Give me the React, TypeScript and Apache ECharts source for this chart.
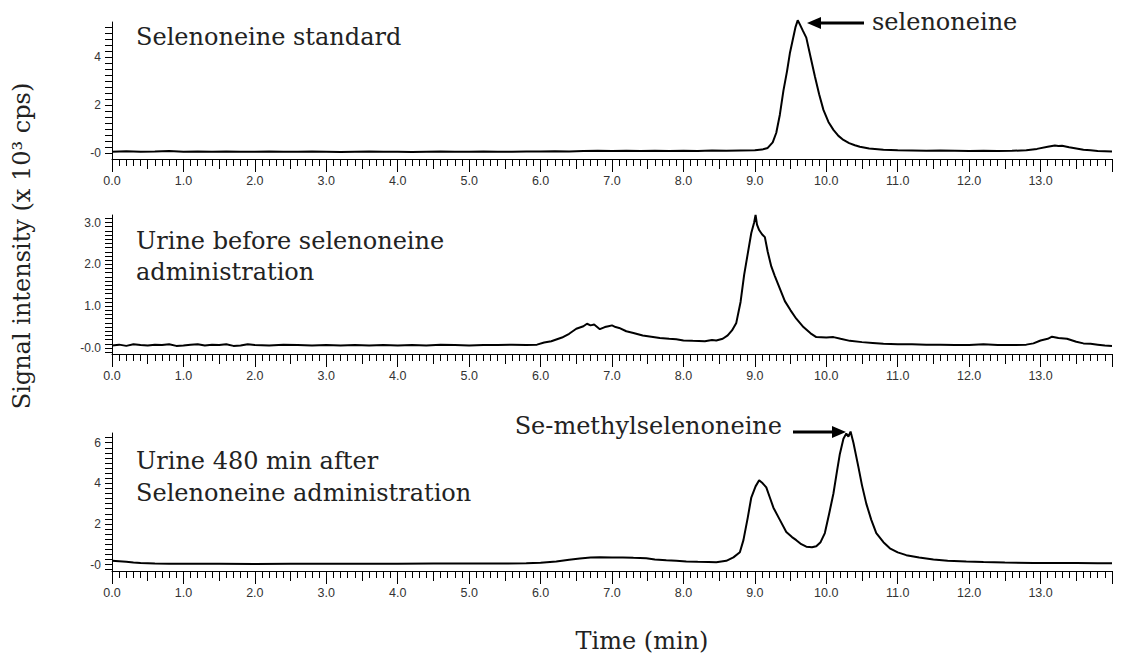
import React, { useEffect, useRef } from "react";
import * as echarts from "echarts";

// ---- data (time in min, signal in 10^3 cps) ----
const standardTrace: [number, number][] = [
  [0.0, 0.06], [0.2, 0.08], [0.4, 0.06], [0.6, 0.07], [0.8, 0.09], [1.0, 0.06], [1.2, 0.07], [1.4, 0.06],
  [1.6, 0.07], [1.8, 0.06], [2.0, 0.06], [2.2, 0.07], [2.4, 0.06], [2.6, 0.06], [2.8, 0.07], [3.0, 0.06],
  [3.2, 0.05], [3.4, 0.06], [3.6, 0.07], [3.8, 0.06], [4.0, 0.06], [4.2, 0.05], [4.4, 0.06], [4.6, 0.07],
  [4.8, 0.06], [5.0, 0.06], [5.2, 0.07], [5.4, 0.06], [5.6, 0.06], [5.8, 0.07], [6.0, 0.07], [6.2, 0.08],
  [6.4, 0.07], [6.6, 0.09], [6.8, 0.1], [7.0, 0.09], [7.2, 0.1], [7.4, 0.09], [7.6, 0.1], [7.8, 0.09],
  [8.0, 0.1], [8.2, 0.09], [8.4, 0.11], [8.6, 0.1], [8.8, 0.11], [9.0, 0.12], [9.1, 0.15], [9.18, 0.22],
  [9.25, 0.45], [9.3, 0.85], [9.35, 1.6], [9.4, 2.6], [9.45, 3.4], [9.49, 4.15], [9.53, 4.7], [9.57, 5.25],
  [9.6, 5.52], [9.63, 5.35], [9.67, 5.1], [9.72, 4.8], [9.78, 4.0], [9.84, 3.2], [9.9, 2.45], [9.96, 1.8],
  [10.03, 1.3], [10.1, 0.97], [10.17, 0.72], [10.24, 0.55], [10.32, 0.42], [10.4, 0.33], [10.47, 0.27],
  [10.6, 0.2], [10.8, 0.14], [11.0, 0.12], [11.2, 0.11], [11.4, 0.1], [11.6, 0.11], [11.8, 0.1], [12.0, 0.09],
  [12.2, 0.1], [12.4, 0.09], [12.6, 0.1], [12.8, 0.12], [12.95, 0.18], [13.1, 0.27], [13.2, 0.32],
  [13.25, 0.3], [13.3, 0.31], [13.4, 0.25], [13.5, 0.2], [13.6, 0.14], [13.7, 0.12], [13.8, 0.09],
  [13.9, 0.08], [14.0, 0.07],
];

const urineBeforeTrace: [number, number][] = [
  [0.0, 0.06], [0.1, 0.08], [0.2, 0.05], [0.3, 0.09], [0.4, 0.07], [0.5, 0.06], [0.6, 0.08], [0.7, 0.07],
  [0.8, 0.09], [0.9, 0.05], [1.0, 0.06], [1.1, 0.08], [1.2, 0.09], [1.3, 0.06], [1.4, 0.08], [1.5, 0.07],
  [1.6, 0.09], [1.7, 0.05], [1.8, 0.06], [1.9, 0.09], [2.0, 0.07], [2.2, 0.06], [2.4, 0.08], [2.6, 0.07],
  [2.8, 0.06], [3.0, 0.07], [3.2, 0.06], [3.4, 0.07], [3.6, 0.06], [3.8, 0.07], [4.0, 0.06], [4.2, 0.07],
  [4.4, 0.06], [4.6, 0.08], [4.8, 0.07], [5.0, 0.06], [5.2, 0.07], [5.4, 0.07], [5.6, 0.08], [5.8, 0.07],
  [5.95, 0.08], [6.05, 0.13], [6.15, 0.16], [6.3, 0.25], [6.4, 0.34], [6.5, 0.46], [6.6, 0.52], [6.65, 0.58],
  [6.7, 0.54], [6.75, 0.56], [6.83, 0.45], [6.9, 0.5], [6.95, 0.52], [7.0, 0.54], [7.05, 0.5], [7.1, 0.48],
  [7.2, 0.4], [7.3, 0.36], [7.43, 0.3], [7.55, 0.27], [7.67, 0.24], [7.8, 0.22], [7.9, 0.21], [8.0, 0.18],
  [8.13, 0.17], [8.3, 0.16], [8.4, 0.19], [8.46, 0.18], [8.55, 0.22], [8.62, 0.3], [8.68, 0.42], [8.74, 0.6],
  [8.8, 1.1], [8.85, 1.75], [8.9, 2.25], [8.95, 2.75], [8.99, 3.0], [9.01, 3.18], [9.03, 2.95], [9.06, 2.82],
  [9.1, 2.72], [9.14, 2.65], [9.18, 2.3], [9.23, 1.95], [9.28, 1.72], [9.35, 1.42], [9.42, 1.12], [9.5, 0.9],
  [9.58, 0.7], [9.68, 0.5], [9.78, 0.35], [9.86, 0.26], [10.0, 0.25], [10.1, 0.26], [10.2, 0.22],
  [10.33, 0.17], [10.5, 0.14], [10.65, 0.12], [10.8, 0.1], [11.0, 0.09], [11.2, 0.09], [11.4, 0.08],
  [11.6, 0.08], [11.8, 0.07], [12.0, 0.07], [12.2, 0.09], [12.4, 0.07], [12.6, 0.07], [12.8, 0.08],
  [12.9, 0.11], [13.0, 0.18], [13.1, 0.22], [13.16, 0.27], [13.25, 0.24], [13.37, 0.22], [13.5, 0.15],
  [13.6, 0.11], [13.7, 0.1], [13.8, 0.08], [13.9, 0.06], [14.0, 0.05],
];

const urineAfterTrace: [number, number][] = [
  [0.0, 0.18], [0.1, 0.16], [0.2, 0.14], [0.3, 0.1], [0.4, 0.07], [0.6, 0.05], [0.8, 0.04], [1.0, 0.04],
  [1.5, 0.04], [2.0, 0.03], [2.5, 0.04], [3.0, 0.04], [3.5, 0.04], [4.0, 0.04], [4.5, 0.05], [5.0, 0.05],
  [5.5, 0.05], [5.8, 0.06], [6.0, 0.09], [6.22, 0.15], [6.4, 0.24], [6.55, 0.3], [6.7, 0.34], [6.83, 0.36],
  [7.0, 0.35], [7.15, 0.35], [7.3, 0.33], [7.48, 0.31], [7.6, 0.25], [7.76, 0.21], [7.9, 0.18], [8.04, 0.15],
  [8.2, 0.13], [8.35, 0.12], [8.46, 0.11], [8.6, 0.18], [8.7, 0.35], [8.79, 0.6], [8.84, 1.2], [8.9, 2.3],
  [8.95, 3.3], [9.01, 3.85], [9.06, 4.15], [9.11, 4.0], [9.16, 3.8], [9.21, 3.3], [9.26, 2.8], [9.35, 2.2],
  [9.44, 1.6], [9.52, 1.35], [9.58, 1.2], [9.65, 1.0], [9.72, 0.88], [9.8, 0.85], [9.86, 0.9], [9.92, 1.1],
  [9.98, 1.55], [10.04, 2.5], [10.1, 3.5], [10.15, 4.6], [10.19, 5.45], [10.24, 6.2], [10.28, 6.45],
  [10.31, 6.3], [10.34, 6.55], [10.38, 6.0], [10.45, 4.8], [10.5, 3.9], [10.56, 3.0], [10.63, 2.2],
  [10.7, 1.55], [10.8, 1.1], [10.89, 0.8], [11.0, 0.6], [11.12, 0.46], [11.3, 0.34], [11.5, 0.25],
  [11.7, 0.19], [11.96, 0.15], [12.2, 0.12], [12.5, 0.1], [12.9, 0.08], [13.2, 0.07], [13.5, 0.07],
  [13.8, 0.06], [14.0, 0.06],
];

// tick labels
const xLabelValues = [0, 1, 2, 3, 4, 5, 6, 7, 8, 9, 10, 11, 12, 13];
const yTicksStandard = [0, 2, 4];
const yTicksBefore = [0, 1, 2, 3];
const yTicksAfter = [0, 2, 4, 6];

const panelTitles = [
  ["Selenoneine standard"],
  ["Urine before selenoneine", "administration"],
  ["Urine 480 min after", "Selenoneine administration"],
];
const yAxisTitle = "Signal intensity (x 10³ cps)";
const xAxisTitle = "Time (min)";

const SERIF = "'DejaVu Serif', serif";
const SANS = "'Liberation Sans', Arial, sans-serif";

// tick positions every `step` inside [min, max]
function tickPositions(min: number, max: number, step: number): number[] {
  const out: number[] = [];
  const n = Math.round(max / step) + 2;
  for (let k = -n; k <= n; k++) {
    const v = Number((k * step).toFixed(4));
    if (v >= min && v <= max) out.push(v);
  }
  return out;
}

export default function App() {
  const ref = useRef<HTMLDivElement>(null);

  useEffect(() => {
    if (!ref.current) return;
    const chart = echarts.init(ref.current, null, { renderer: "svg" });

    const GRID_LEFT = 112;
    const GRID_WIDTH = 1000;

    const panels = [
      { top: 22, height: 137, min: -0.24, max: 5.45, major: yTicksStandard, minorStep: 0.25, fmt: (v: number) => (v === 0 ? "-0" : String(v)), data: standardTrace },
      { top: 215, height: 139, min: -0.144, max: 3.18, major: yTicksBefore, minorStep: 0.1, fmt: (v: number) => (v === 0 ? "-0.0" : v.toFixed(1)), data: urineBeforeTrace },
      { top: 433, height: 138, min: -0.32, max: 6.48, major: yTicksAfter, minorStep: 0.25, fmt: (v: number) => (v === 0 ? "-0" : String(v)), data: urineAfterTrace },
    ];

    const grid: any[] = [];
    const xAxis: any[] = [];
    const yAxis: any[] = [];
    const series: any[] = [];

    panels.forEach((p, i) => {
      grid.push({ left: GRID_LEFT, width: GRID_WIDTH, top: p.top, height: p.height, containLabel: false });
      const baseX = {
        type: "value",
        gridIndex: i,
        min: 0,
        max: 14,
        position: "bottom",
        splitLine: { show: false },
      };
      xAxis.push({
        ...baseX,
        interval: 1,
        axisLine: { show: true, onZero: false, lineStyle: { color: "#000", width: 1 } },
        axisTick: { show: true, length: 13, lineStyle: { color: "#000", width: 1 } },
        axisLabel: {
          show: true,
          customValues: xLabelValues,
          formatter: (v: number) => v.toFixed(1),
          margin: 15,
          fontSize: 12.5,
          fontFamily: SANS,
          color: "#333",
        },
      });
      xAxis.push({
        ...baseX,
        interval: 0.5,
        axisLine: { show: false, onZero: false },
        axisTick: { show: true, length: 10, lineStyle: { color: "#000", width: 1 } },
        axisLabel: { show: false },
      });
      xAxis.push({
        ...baseX,
        interval: 0.1,
        axisLine: { show: false, onZero: false },
        axisTick: { show: true, length: 7, lineStyle: { color: "#000", width: 1 } },
        axisLabel: { show: false },
      });
      // single y axis: every minor position carries a tick, labels only at the major values
      const allTicks = tickPositions(p.min, p.max, p.minorStep);
      p.major.forEach((m) => {
        if (allTicks.indexOf(m) < 0) allTicks.push(m);
      });
      allTicks.sort((a, b) => a - b);
      yAxis.push({
        type: "value",
        gridIndex: i,
        position: "left",
        min: p.min,
        max: p.max,
        splitLine: { show: false },
        axisLine: { show: true, onZero: false, lineStyle: { color: "#000", width: 1 } },
        axisTick: { show: true, length: 7, customValues: allTicks, lineStyle: { color: "#000", width: 1 } },
        axisLabel: {
          show: true,
          customValues: p.major,
          formatter: p.fmt,
          margin: 11,
          fontSize: 12,
          fontFamily: SANS,
          color: "#333",
        },
      });
      series.push({
        type: "line",
        xAxisIndex: i * 3,
        yAxisIndex: i,
        data: p.data,
        showSymbol: false,
        symbol: "none",
        clip: false,
        silent: true,
        lineStyle: { color: "#000", width: 2 },
      });
    });

    const titleStyle = { fontFamily: SERIF, fontSize: 24, fill: "#222" };
    const graphic: any[] = [];
    const titleLines = [
      [{ text: panelTitles[0][0], y: 37 }],
      [{ text: panelTitles[1][0], y: 241 }, { text: panelTitles[1][1], y: 272 }],
      [{ text: panelTitles[2][0], y: 461 }, { text: panelTitles[2][1], y: 493 }],
    ];
    titleLines.forEach((lines) =>
      lines.forEach((l) =>
        graphic.push({
          type: "text",
          x: 136,
          y: l.y,
          style: { ...titleStyle, text: l.text, verticalAlign: "middle" },
        })
      )
    );
    // selenoneine annotation
    graphic.push({ type: "text", x: 872, y: 22, style: { ...titleStyle, text: "selenoneine", verticalAlign: "middle" } });
    graphic.push({ type: "line", shape: { x1: 864, y1: 23, x2: 818, y2: 23 }, style: { stroke: "#000", lineWidth: 3 } });
    graphic.push({ type: "polygon", shape: { points: [[807, 23], [821, 17], [821, 29]] }, style: { fill: "#000" } });
    // Se-methylselenoneine annotation
    graphic.push({ type: "text", x: 782, y: 426, style: { ...titleStyle, text: "Se-methylselenoneine", align: "right", verticalAlign: "middle" } });
    graphic.push({ type: "line", shape: { x1: 793, y1: 432, x2: 834, y2: 432 }, style: { stroke: "#000", lineWidth: 3 } });
    graphic.push({ type: "polygon", shape: { points: [[846, 432], [832, 426], [832, 438]] }, style: { fill: "#000" } });
    // axis titles
    graphic.push({
      type: "text",
      x: 22,
      y: 246,
      rotation: Math.PI / 2,
      style: { ...titleStyle, text: yAxisTitle, align: "center", verticalAlign: "middle" },
    });
    graphic.push({
      type: "text",
      x: 642,
      y: 641,
      style: { ...titleStyle, text: xAxisTitle, align: "center", verticalAlign: "middle" },
    });

    chart.setOption({
      animation: false,
      backgroundColor: "#fff",
      grid,
      xAxis,
      yAxis,
      series,
      graphic,
    });

    return () => chart.dispose();
  }, []);

  return (
    <div
      ref={ref}
      style={{ position: "absolute", left: 0, top: 0, width: 1121, height: 663, background: "#fff" }}
    />
  );
}
